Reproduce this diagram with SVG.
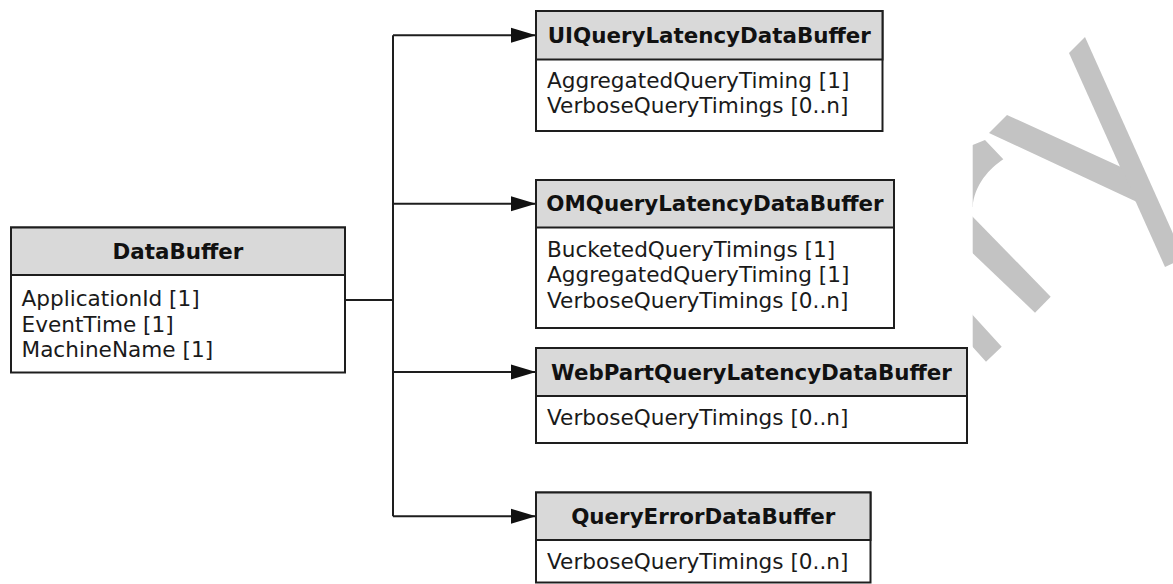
<svg xmlns="http://www.w3.org/2000/svg" width="1173" height="584" viewBox="0 0 1173 584">
  <style>
    .box { fill: #ffffff; stroke: #1e1e1e; stroke-width: 2; }
    .hdr { fill: #d9d9d9; stroke: #1e1e1e; stroke-width: 2; }
    .title { font-family: "DejaVu Sans", Verdana, sans-serif; font-size: 21.4px; font-weight: bold; fill: #111111; text-anchor: middle; }
    .attr { font-family: "DejaVu Sans", Verdana, sans-serif; font-size: 21.6px; fill: #1a1a1a; }
    .conn { fill: none; stroke: #1e1e1e; stroke-width: 2; }
    .wm { fill: #c3c3c3; }
  </style>
  <defs>
    <marker id="arrow" markerUnits="userSpaceOnUse" markerWidth="26" markerHeight="17" refX="25" refY="8" orient="auto">
      <path d="M0,0.5 L25,8 L0,15.5 Z" fill="#111111"/>
    </marker>
    <clipPath id="wmclip">
      <rect x="972.7" y="0" width="210" height="584"/>
    </clipPath>
  </defs>
  <rect width="1173" height="584" fill="#ffffff"/>

  <g id="watermark" clip-path="url(#wmclip)">
    <polygon class="wm" points="1069,53 1085,37 1184,258 1165,267"/>
    <polygon class="wm" points="989,133 1007,115 1121,167 1137,202"/>
    <path class="wm" d="M985,140 L1003.3,159.3 C990,168 974,185 972.7,207 L960,207 L960,150 Z"/>
    <polygon class="wm" points="960,204 972.7,216.7 1050.7,296.7 1035,312.7 972.7,253.3 960,241"/>
    <polygon class="wm" points="960,302 972.7,315 1001.7,346.7 986,361.7 972.7,347 960,334"/>
  </g>

  <g id="connectors">
    <path class="conn" d="M345,300 H393"/>
    <path class="conn" d="M393,35.25 V516.25"/>
    <path class="conn" d="M393,35.25 H536" marker-end="url(#arrow)"/>
    <path class="conn" d="M393,203.75 H536" marker-end="url(#arrow)"/>
    <path class="conn" d="M393,372 H536" marker-end="url(#arrow)"/>
    <path class="conn" d="M393,516.25 H536" marker-end="url(#arrow)"/>
  </g>

  <g id="DataBuffer">
    <rect class="box" x="11" y="227.5" width="334" height="145"/>
    <rect class="hdr" x="11" y="227.5" width="334" height="47.5"/>
    <text class="title" x="178" y="258.5">DataBuffer</text>
    <text class="attr" x="21.5" y="306">ApplicationId [1]</text>
    <text class="attr" x="21.5" y="331.5">EventTime [1]</text>
    <text class="attr" x="21.5" y="357">MachineName [1]</text>
  </g>

  <g id="UIQueryLatencyDataBuffer">
    <rect class="box" x="536" y="11" width="346.5" height="120"/>
    <rect class="hdr" x="536" y="11" width="346.5" height="48.5"/>
    <text class="title" x="709.25" y="42.75">UIQueryLatencyDataBuffer</text>
    <text class="attr" x="547" y="87.5">AggregatedQueryTiming [1]</text>
    <text class="attr" x="547" y="113">VerboseQueryTimings [0..n]</text>
  </g>

  <g id="OMQueryLatencyDataBuffer">
    <rect class="box" x="536" y="180" width="358" height="148"/>
    <rect class="hdr" x="536" y="180" width="358" height="47.5"/>
    <text class="title" x="715" y="211.25">OMQueryLatencyDataBuffer</text>
    <text class="attr" x="547" y="256.5">BucketedQueryTimings [1]</text>
    <text class="attr" x="547" y="282">AggregatedQueryTiming [1]</text>
    <text class="attr" x="547" y="307.5">VerboseQueryTimings [0..n]</text>
  </g>

  <g id="WebPartQueryLatencyDataBuffer">
    <rect class="box" x="536" y="348" width="431" height="95"/>
    <rect class="hdr" x="536" y="348" width="431" height="48"/>
    <text class="title" x="751.5" y="379.5">WebPartQueryLatencyDataBuffer</text>
    <text class="attr" x="547" y="425">VerboseQueryTimings [0..n]</text>
  </g>

  <g id="QueryErrorDataBuffer">
    <rect class="box" x="536" y="492.5" width="334.5" height="90"/>
    <rect class="hdr" x="536" y="492.5" width="334.5" height="47.5"/>
    <text class="title" x="703.25" y="523.75">QueryErrorDataBuffer</text>
    <text class="attr" x="547" y="569">VerboseQueryTimings [0..n]</text>
  </g>
</svg>
